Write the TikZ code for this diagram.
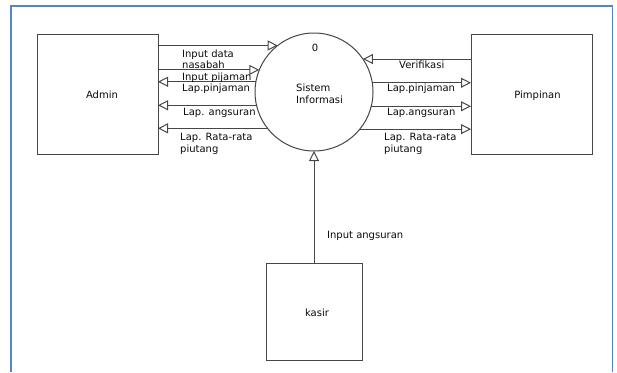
\documentclass[tikz,border=0pt]{standalone}
\usepackage{fontspec}
\setmainfont{DejaVu Sans}
\usetikzlibrary{arrows.meta}
\definecolor{framecol}{RGB}{84,132,196}
\definecolor{linecol}{RGB}{70,70,70}
\definecolor{txtcol}{RGB}{10,10,10}
\tikzset{
  entity/.style={draw=linecol, line width=1pt, fill=white, outer sep=0pt, inner sep=0pt, text=txtcol},
  process/.style={draw=linecol, line width=1pt, circle, fill=white, outer sep=0pt, inner sep=0pt, minimum size=118pt},
  flow/.style={draw=linecol, line width=1pt, -{Triangle[open, length=10pt, width=10pt]}},
  lbl/.style={inner sep=0pt, text=txtcol, align=left, font=\fontsize{10}{11.5}\selectfont},
}
\begin{document}
\begin{tikzpicture}[x=1pt, y=-1pt]
\useasboundingbox (0,0) rectangle (617,372);
% outer frame (open at the bottom)
\draw[framecol, line width=1.8pt] (11,372) -- (11,6) -- (612.5,6) -- (612.5,372);

% external entities and the process
\node[entity, minimum width=121pt, minimum height=120pt] (admin) at (97.5,94) {};
\node[entity, minimum width=121pt, minimum height=120pt] (pimp) at (531.5,94) {};
\node[entity, minimum width=96pt, minimum height=97pt] (kasir) at (314,311.5) {};
\node[process] (circ) at (314,92) {};

% entity names
\node[lbl, anchor=base] (tadmin) at (102,98.5) {Admin};
\node[lbl, anchor=base] (tpimp) at (537.5,98.5) {Pimpinan};
\node[lbl, anchor=base] (tkasir) at (317,316.5) {kasir};
\node[lbl, anchor=base] (tzero) at (315,51.5) {0};
\node[lbl, anchor=north west] (tsys) at (296,84) {Sistem\\Informasi};

% flows between Admin and the process
\draw[flow] (admin.east |- circ.128.8) -- (circ.128.8);
\draw[flow] (admin.east |- circ.158.1) -- (circ.158.1);
\draw[flow] (circ.170.2) -- (admin.east |- circ.170.2);
\draw[flow] (circ.193.7) -- (admin.east |- circ.193.7);
\draw[flow] (circ.218.8) -- (admin.east |- circ.218.8);

% flows between Pimpinan and the process
\draw[flow] (pimp.west |- circ.34) -- (circ.34);
\draw[flow] (circ.9.8) -- (pimp.west |- circ.9.8);
\draw[flow] (circ.346.3) -- (pimp.west |- circ.346.3);
\draw[flow] (circ.321.2) -- (pimp.west |- circ.321.2);

% flow from kasir
\draw[flow] (kasir) -- (circ);

% flow labels, left side
\node[lbl, anchor=north west] (l1) at (182,49.5) {Input data\\nasabah};
\node[lbl, anchor=base west] (l2) at (182,80) {Input pijaman};
\node[lbl, anchor=base west] (l3) at (182,91.5) {Lap.pinjaman};
\node[lbl, anchor=base west] (l4) at (183,115.5) {Lap. angsuran};
\node[lbl, anchor=north west] (l5) at (180,133.5) {Lap. Rata-rata\\piutang};

% flow labels, right side
\node[lbl, anchor=base west] (r1) at (399,68) {Verifikasi};
\node[lbl, anchor=base west] (r2) at (387,91.5) {Lap.pinjaman};
\node[lbl, anchor=base west] (r3) at (387,115.5) {Lap.angsuran};
\node[lbl, anchor=north west] (r4) at (384,133.5) {Lap. Rata-rata\\piutang};

% label of the kasir flow
\node[lbl, anchor=base west] (k1) at (327,238.5) {Input angsuran};
\end{tikzpicture}
\end{document}
